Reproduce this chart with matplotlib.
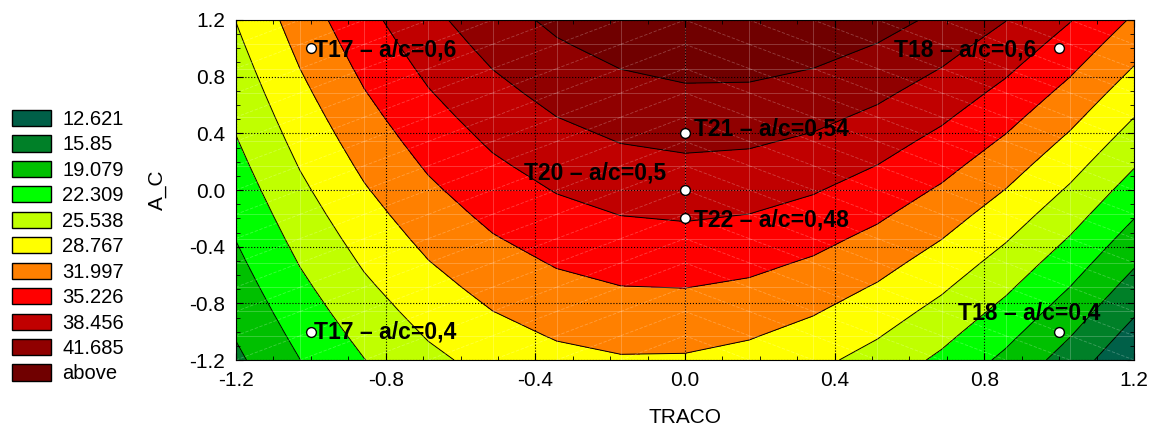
import numpy as np
import matplotlib
matplotlib.use("Agg")
import matplotlib.pyplot as plt
import matplotlib.patches as mpatches
from matplotlib.colors import ListedColormap, BoundaryNorm

plt.rcParams["font.family"] = ["Liberation Sans", "DejaVu Sans"]
plt.rcParams["axes.unicode_minus"] = False

# fitted response surface z = b0 + b1*x + b2*y + b11*x^2 + b22*y^2 + b12*x*y
# (coefficients fitted to contour crossings)
b0, b1, b2 = 36.729, 0.113, 6.706
b11, b22, b12 = -11.060, -0.174, 1.983

levels = [12.621, 15.85, 19.079, 22.309, 25.538, 28.767, 31.997, 35.226, 38.456, 41.685]
legend_labels = ["12.621", "15.85", "19.079", "22.309", "25.538", "28.767",
                 "31.997", "35.226", "38.456", "41.685", "above"]
colors = ["#006048", "#008028", "#00c000", "#00ff00", "#c0ff00", "#ffff00",
          "#ff8000", "#ff0000", "#c00000", "#900000", "#700000"]

points_x = [-1, 1, 0, 0, 0, -1, 1]
points_y = [1, 1, 0.4, 0, -0.2, -1, -1]
point_labels = ["T17 \u2013 a/c=0,6", "T18 \u2013 a/c=0,6", "T21 \u2013 a/c=0,54",
                "T20 \u2013 a/c=0,5", "T22 \u2013 a/c=0,48", "T17 \u2013 a/c=0,4",
                "T18 \u2013 a/c=0,4"]

gx = np.linspace(-1.2, 1.2, 15)
gy = np.linspace(-1.2, 1.2, 15)
X, Y = np.meshgrid(gx, gy)
Z = b0 + b1*X + b2*Y + b11*X**2 + b22*Y**2 + b12*X*Y

fig = plt.figure(figsize=(11.53, 4.29), dpi=100)
ax = fig.add_axes([0.2047, 0.1608, 0.7788, 0.7926])

bounds = [-1e6] + levels + [1e6]
cmap = ListedColormap(colors)
norm = BoundaryNorm(bounds, cmap.N)
ax.contourf(X, Y, Z, levels=bounds, cmap=cmap, norm=norm)
ax.contour(X, Y, Z, levels=levels, colors="black", linewidths=0.7)

# surface mesh
for v in gx:
    ax.plot([v, v], [-1.2, 1.2], color="white", alpha=0.25, lw=0.6, zorder=2)
for v in gy:
    ax.plot([-1.2, 1.2], [v, v], color="white", alpha=0.25, lw=0.6, zorder=2)
for i in range(len(gx) - 1):
    for j in range(len(gy) - 1):
        if gx[i] < 0:
            xs, ys = [gx[i], gx[i+1]], [gy[j], gy[j+1]]
        else:
            xs, ys = [gx[i], gx[i+1]], [gy[j+1], gy[j]]
        ax.plot(xs, ys, color="white", alpha=0.25, lw=0.6, ls=(0, (4, 2)), zorder=2)

ax.set_xlim(-1.2, 1.2)
ax.set_ylim(-1.2, 1.2)
ticks = np.arange(-1.2, 1.21, 0.4)
labels = [f"{t:.1f}" if abs(t) > 1e-9 else "0.0" for t in ticks]
ax.set_xticks(ticks)
ax.set_yticks(ticks)
ax.set_xticklabels(labels)
ax.set_yticklabels(labels)
ax.set_xticks(np.arange(-1.2, 1.21, 0.1), minor=True)
ax.set_yticks(np.arange(-1.2, 1.21, 0.1), minor=True)
ax.tick_params(which="both", direction="in", top=True, right=True, labelsize=15)
ax.tick_params(which="major", length=5, pad=8)
ax.tick_params(which="minor", length=3)
ax.grid(True, which="major", color="black", ls=":", lw=0.8)
ax.set_axisbelow(False)
ax.set_xlabel("TRACO", fontsize=15, labelpad=13)
ax.set_ylabel("A_C", fontsize=15, labelpad=16)

ax.scatter(points_x, points_y, s=50, facecolor="white", edgecolor="black", lw=1, zorder=5)
offsets = [(0.008, -0.01, "left"), (-0.06, -0.01, "right"), (0.025, 0.03, "left"),
           (-0.05, 0.12, "right"), (0.025, -0.01, "left"), (0.008, 0.0, "left"),
           (-0.08, 0.13, "center")]
for px, py, lab, (dx, dy, ha) in zip(points_x, points_y, point_labels, offsets):
    ax.text(px + dx, py + dy, lab, ha=ha, va="center", fontsize=16.5,
            fontweight="bold", zorder=6)

handles = [mpatches.Patch(facecolor=c, edgecolor="black", label=l)
           for c, l in zip(colors, legend_labels)]
fig.legend(handles=handles, loc="upper left", bbox_to_anchor=(12 / 1153, 1 - 110 / 429),
           frameon=False, fontsize=14.5, handlelength=1.95, handleheight=0.85,
           labelspacing=0.32, handletextpad=0.55, borderpad=0, borderaxespad=0)

fig.savefig("out.png", dpi=100)
